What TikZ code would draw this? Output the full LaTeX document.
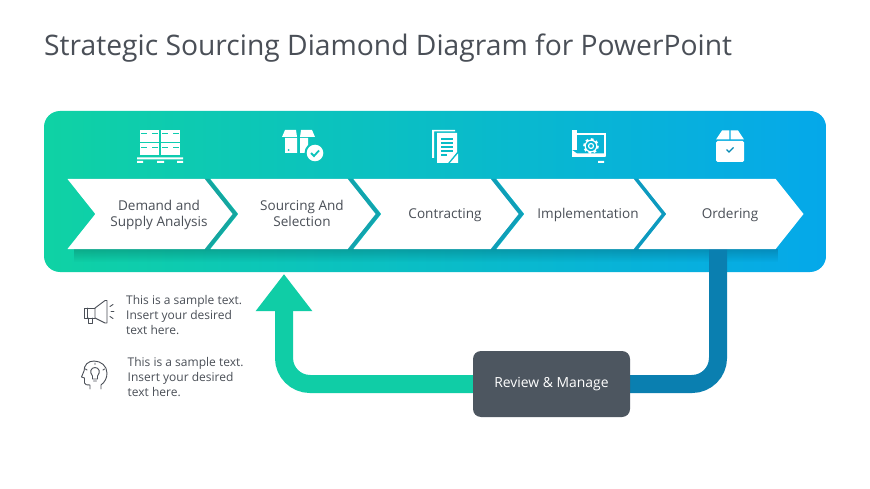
\documentclass[tikz,border=0pt]{standalone}
\usepackage{fontspec}
\usepackage{xcolor}
\setmainfont{Open Sans}
\usetikzlibrary{shapes.symbols,arrows.meta,fadings,backgrounds}
\definecolor{inkgray}{HTML}{4A4F57}
\definecolor{slategray}{HTML}{4D5660}
\definecolor{startgreen}{HTML}{0FD2A4}
\definecolor{endblue}{HTML}{05A8EA}
\definecolor{flowgreen}{HTML}{10CDA6}
\definecolor{flowblue}{HTML}{0A7FB0}
\definecolor{banda}{HTML}{14A6A0}
\definecolor{bandb}{HTML}{12A4AE}
\definecolor{bandc}{HTML}{0F9FB8}
\definecolor{bandd}{HTML}{0D9ABF}
\tikzstyle{panel}=[rounded corners=16pt,left color=startgreen,right color=endblue,draw=none]
\tikzstyle{chev}=[signal,signal from=west,signal to=east,signal pointer angle=103,minimum width=165pt,minimum height=70pt,inner sep=0pt,draw=none,outer sep=0pt]
\tikzstyle{chevtext}=[text=inkgray,font=\fontsize{13.55}{15.8}\selectfont,align=center,xshift=9pt,yshift=-.8pt]
\tikzstyle{note}=[text=inkgray,font=\fontsize{12}{15.2}\selectfont,align=left,anchor=north west,inner sep=0pt]
\tikzstyle{flow}=[line width=18pt,rounded corners=26pt]
\tikzstyle{sketch}=[draw=inkgray,line width=.9pt,line join=round,line cap=round]
\def\chevband#1#2#3{\node[chev,fill=#3] at (#2+5,214) {}; \node[chev,fill=white] (#1) at (#2,214) {}}
\def\crate#1#2{\fill[white] (#1,#2) rectangle +(19,12); \draw[startgreen!85!endblue,line width=.8pt] (#1+1,#2+3.5) -- +(6,0) (#1+12,#2+3.5) -- +(6,0)}
\begin{document}
\begin{tikzpicture}[x=1pt,y=-1pt]
    \useasboundingbox (0,0) rectangle (870,489);
    \node[anchor=west,inner sep=0pt,text=inkgray,font=\fontsize{28.25}{32}\selectfont] (title) at (44,48.5) {Strategic Sourcing Diamond Diagram for PowerPoint};
    % chevrons
    \chevband{demand}{150}{banda};
    \chevband{sourcing}{293}{bandb};
    \chevband{contracting}{436}{bandc};
    \chevband{implementation}{579}{bandd};
    \node[chev,fill=white] (ordering) at (721,214) {};
    \node[chevtext] at (demand) {Demand and\\Supply Analysis};
    \node[chevtext,yshift=1.2pt] at (sourcing) {Sourcing And\\Selection};
    \node[chevtext] at (contracting) {Contracting};
    \node[chevtext] at (implementation) {Implementation};
    \node[chevtext] at (ordering) {Ordering};
    % review loop
    \node[rounded corners=8pt,fill=slategray,text=white,font=\fontsize{13.9}{15}\selectfont,minimum width=157pt,minimum height=66pt,inner sep=0pt] (review) at (551.5,384) {Review \& Manage};
    \coordinate (loopout) at (718,249);
    \coordinate (loopin) at (284,274);
    \begin{scope}[on background layer]
    \fill[white] (0,0) rectangle (870,489);
    \path[panel] (44,111) rectangle (826,272);
    \fill[black,path fading=south,opacity=.18] (74,249) rectangle (778,262);
    \draw[flow,flowblue] (loopout) |- (review.east);
    \draw[flow,flowgreen,-{Triangle[width=54pt,length=37pt]}] (review.west) -| (loopin);
    \end{scope}
    % notes
    \node[note] (notea) at (126,295) {This is a sample text.\\Insert your desired\\text here.};
    \node[note] (noteb) at (127.5,357) {This is a sample text.\\Insert your desired\\text here.};
    % pallet icon
    \crate{140}{130}; \crate{161}{130}; \crate{140}{143.5}; \crate{161}{143.5};
    \fill[white] (137,157.5) rectangle (183,159.5) (137,161) rectangle (143,163) (157,161) rectangle (164,163) (177,161) rectangle (183,163);
    % open box icon
    \fill[white] (285,138) rectangle (297,153) (300,138) rectangle (308,153);
    \fill[white] (285,130) -- (296,130) -- (297,137) -- (282,137) -- cycle (301,130) -- (312,130) -- (315,137) -- (300,137) -- cycle;
    \fill[startgreen!67!endblue] (288.5,150) circle (1);
    \fill[startgreen!67!endblue] (315,153) circle (10.5);
    \fill[white] (315,153) circle (8.3);
    \draw[startgreen!67!endblue,line width=1.8pt] (311,153) -- (314,156) -- (319,150.5);
    % document icon
    \fill[white] (432,130) rectangle (455,131.5) (432,130) rectangle (434,158);
    \fill[white] (437,133) -- (457,133) -- (457,152) -- (448,163) -- (437,163) -- cycle;
    \draw[startgreen!50!endblue,line width=1.3pt] (441,139) -- (453,139) (441,143) -- (453,143) (441,147) -- (453,147) (441,151) -- (453,151) (441,155) -- (447,155);
    \fill[white] (450,163) -- (458,153.5) -- (458,163) -- cycle;
    % blueprint icon
    \fill[white] (572,130) rectangle (577,150);
    \draw[white,line width=1.5pt] (577,134) -- (605,134) -- (605,156);
    \fill[white] (572,150) -- (577,153.5) -- (605.7,153.5) -- (605.7,157) -- (572,157) -- cycle (598,161) rectangle (604,163);
    \draw[white,line width=1.2pt] (591,146) circle (5.8) (591,146) circle (2.5);
    \draw[white,line width=2pt,dash pattern=on 2.6pt off 2.7pt] (591,146) circle (6.8);
    % carton icon
    \fill[white,rounded corners=1.5pt] (716,141) rectangle (744,162);
    \fill[white] (722,130.5) -- (729.3,130.5) -- (729.3,139.5) -- (716,139.5) -- cycle (730.7,130.5) -- (738,130.5) -- (744,139.5) -- (730.7,139.5) -- cycle;
    \draw[startgreen!12!endblue!80!black,line width=1.2pt] (726.5,149.5) -- (729,152) -- (733.5,147.5);
    % megaphone icon
    \draw[sketch] (95,308) -- (105,300.5) -- (107,300.5) -- (107,323) -- (105,323) -- (95,318) -- cycle;
    \draw[sketch] (95,308) -- (84,308) -- (84,318) -- (95,318);
    \draw[sketch] (87,308) -- (87,318) (88,318) -- (88,323) -- (92,323) -- (92,318);
    \draw[sketch] (110,306.5) -- (113,304.5) (111,311.5) -- (114,311.5) (110,316.5) -- (113,318.5);
    % head icon
    \draw[sketch] (101,389) -- (101,385) .. controls (105,382) and (107,378) .. (107,373) .. controls (107,366) and (101,361) .. (94,361) .. controls (88,361) and (84,365) .. (84,371) -- (81.5,377) -- (84.5,378) -- (84.5,383) .. controls (85,385) and (87,385) .. (90,385) -- (90,389);
    \draw[sketch] (92.5,376) .. controls (89,372) and (91,367.5) .. (95,367.5) .. controls (99,367.5) and (101,372) .. (97.5,376) -- (97.5,379) -- (92.5,379) -- cycle;
    \draw[sketch] (93.5,381) -- (96.5,381) (87,370) -- (85.5,369) (103,370) -- (104.5,369) (95,364.5) -- (95,363);
\end{tikzpicture}
\end{document}
